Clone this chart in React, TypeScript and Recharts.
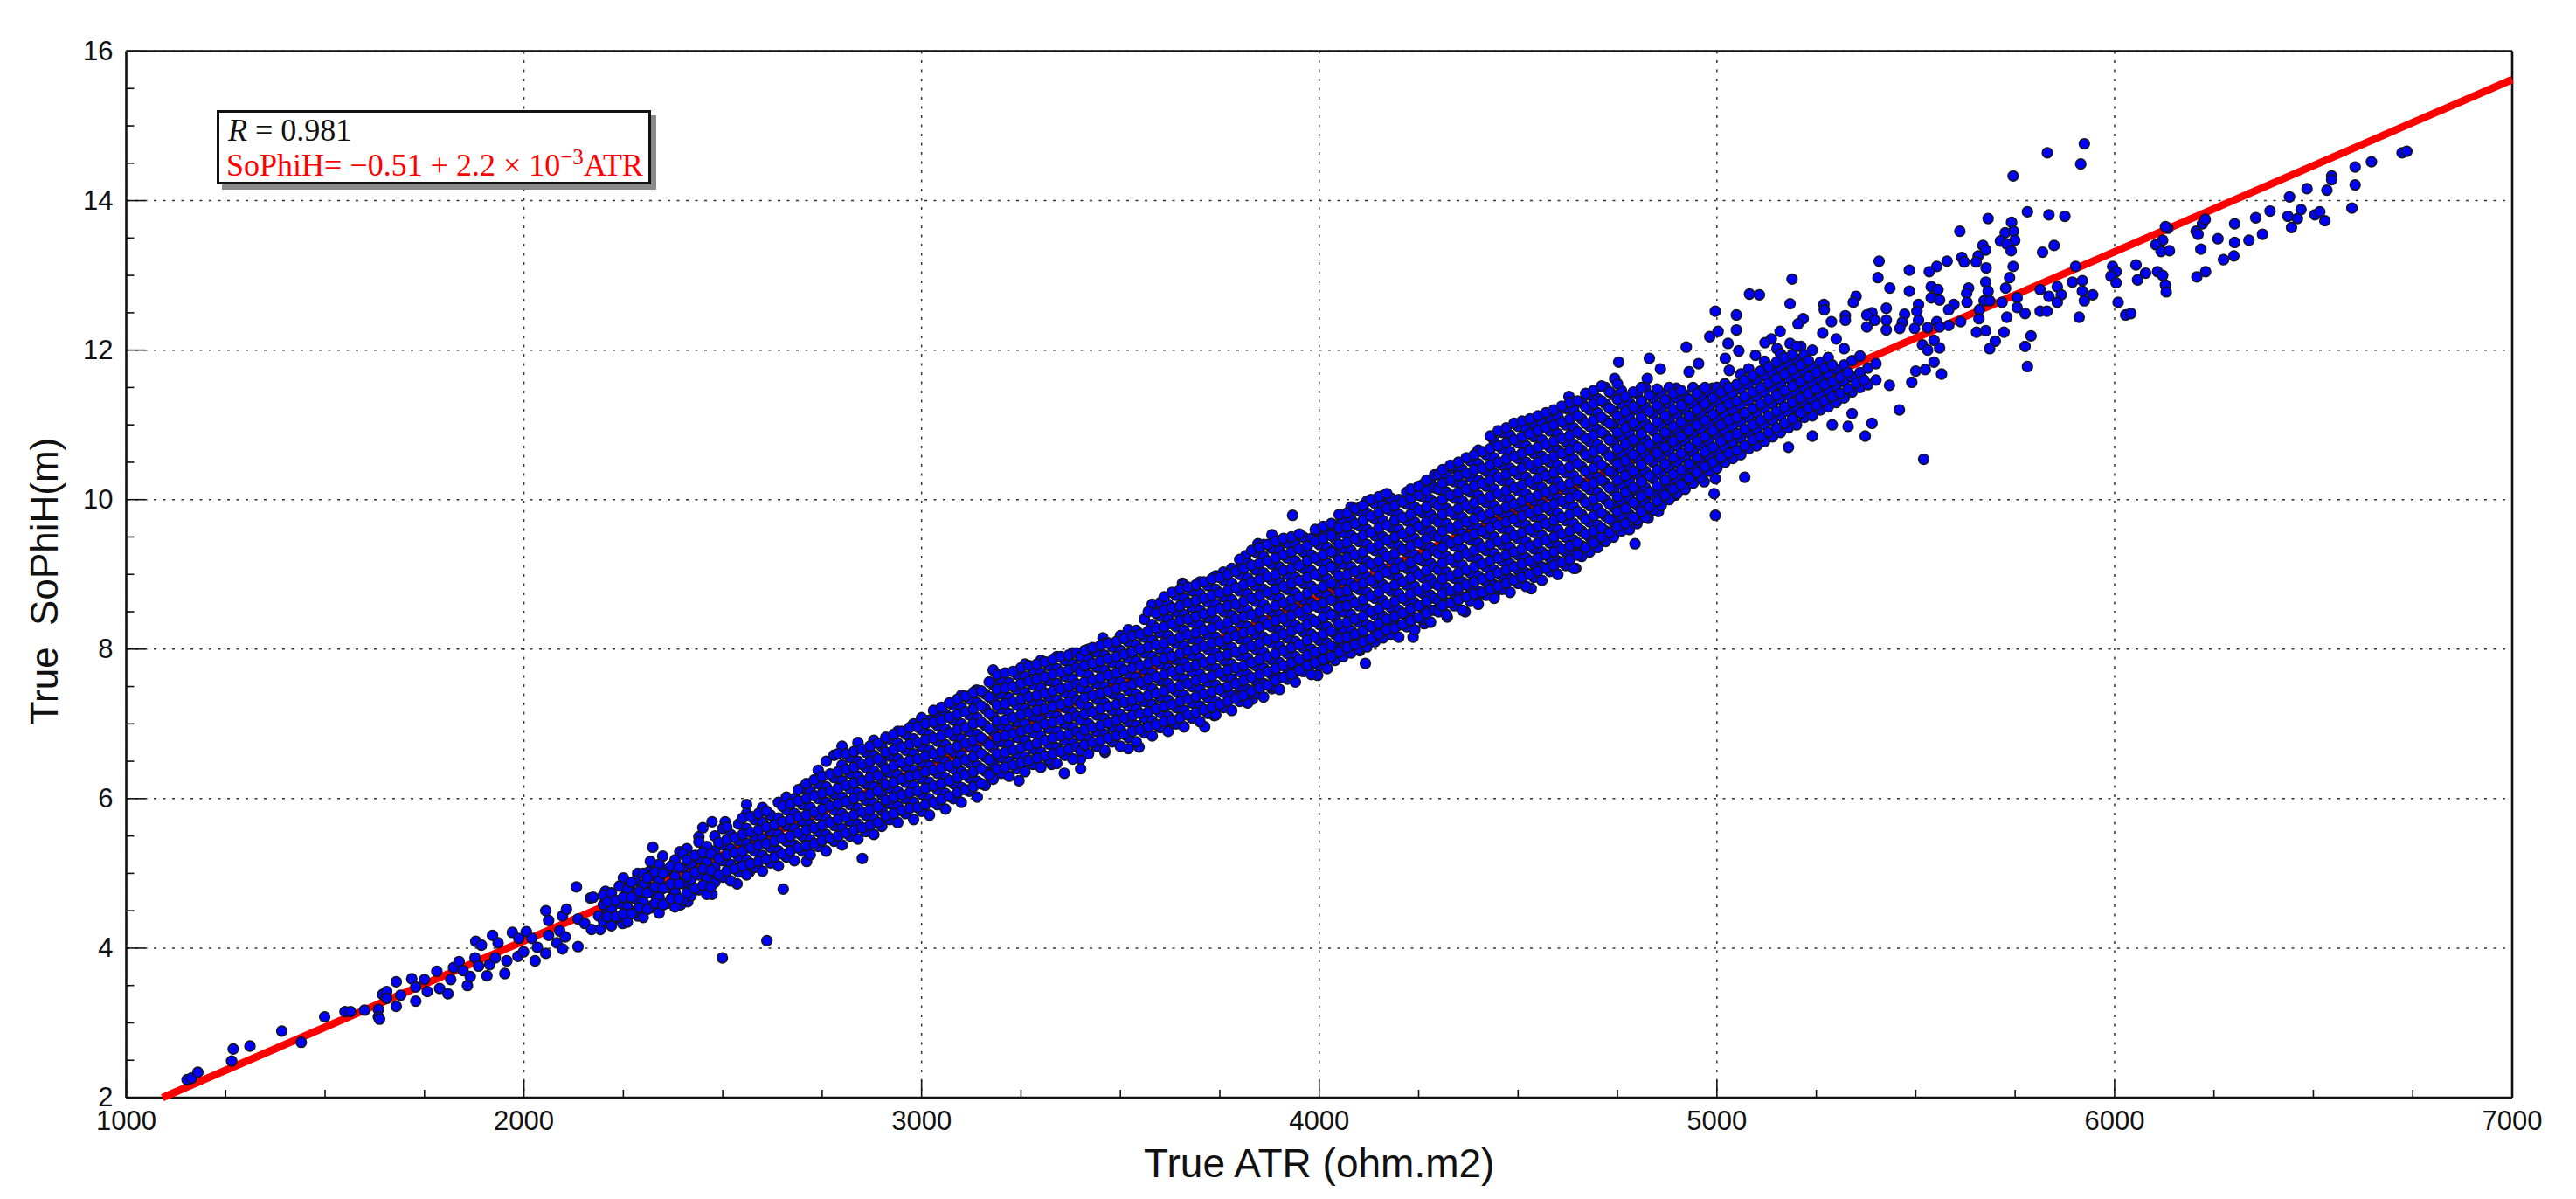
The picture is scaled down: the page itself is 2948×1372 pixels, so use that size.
import {
  ScatterChart,
  Scatter,
  XAxis,
  YAxis,
  CartesianGrid,
} from "recharts";

const xTicks = [1000, 1250, 1500, 1750, 2000, 2250, 2500, 2750, 3000, 3250, 3500, 3750, 4000, 4250, 4500, 4750, 5000, 5250, 5500, 5750, 6000, 6250, 6500, 6750, 7000];
const yTicks = [2, 2.5, 3, 3.5, 4, 4.5, 5, 5.5, 6, 6.5, 7, 7.5, 8, 8.5, 9, 9.5, 10, 10.5, 11, 11.5, 12, 12.5, 13, 13.5, 14, 14.5, 15, 15.5, 16];
const xGrid = [1000, 2000, 3000, 4000, 5000, 6000, 7000];
const yGrid = [2, 4, 6, 8, 10, 12, 14, 16];

// red fit line, read at the two edges of the frame
const fitLine = [
  { atr: 1091, sophih: 2 },
  { atr: 7000, sophih: 15.62 },
];

// separate dots at the thin end [ATR, SoPhiH]
const lowEnd = [
  [1153,2.24],[1164,2.26],[1180,2.34],[1265,2.49],[1269,2.65],[1311,2.69],[1391,2.89],[1440,2.74],[1499,3.08],[1550,3.15],
  [1564,3.15],[1599,3.17],[1634,3.18],[1634,3.08],[1637,3.05],[1645,3.38],[1655,3.42],[1655,3.33],[1679,3.55],[1679,3.22],
  [1690,3.37],[1718,3.59],[1728,3.29],[1728,3.48],[1750,3.58],[1757,3.42],[1781,3.69],[1788,3.46],[1809,3.39],[1816,3.58],
  [1823,3.74],[1837,3.82],[1847,3.7],[1858,3.5],[1865,3.62],[1877,3.87],[1879,4.09],[1893,4.04],[1886,3.76],[1907,3.63],
  [1914,3.78],[1921,4.17],[1928,3.87],[1935,4.07],[1952,3.66],[1957,3.83],[1971,4.21],[1985,3.89],[1987,4.13],[1999,3.95],
  [2006,4.22],[2020,4.13],[2028,3.83],[2034,4.01],[2055,4.5],[2055,3.93],[2062,4.17],[2062,4.37],[2083,4.07],[2090,4.23],
  [2097,3.99],[2097,4.43],[2104,4.15],[2107,4.52],[2132,4.82],[2136,4.02],[2136,4.39],[2153,4.33],[2167,4.67],[2170,4.25],
  [2174,4.68],[2192,4.25],[2188,4.43],[2205,4.76],[2209,4.49],[2226,4.37],[2230,4.62],[2248,4.33],[2250,4.94],[2258,4.72],
  [2265,4.82],[2272,4.49],[2286,4.43],[2286,5.0],[2290,4.68],[2307,4.84],[2317,4.56],[2314,5.02],[2324,5.35],[2318,5.16],
  [2332,4.7],[2349,5.23],[2349,4.58],[2360,5.04],[2370,4.8],[2394,4.58],[2392,5.29],[2410,5.33],[2412,4.62],[2398,4.88],
  [2419,4.82],[2426,5.16],[2440,5.49],[2454,5.35],[2450,5.61],[2473,5.69],[2473,4.72],[2447,5.0],[2475,4.92],[2499,3.87],
  [2611,4.1],[2652,4.79],[2536,4.86],[2567,5.02],[2711,5.16],[2851,5.2],[2506,5.69],[2560,5.92],
];

// edges of the thick middle that can be picked out one by one
const bandEdges = [
  [3180,7.72],[3137,7.45],[3456,8.15],[4337,10.42],[4158,9.99],[4102,9.89],[4059,9.57],[3881,9.53],[3656,8.88],[3736,8.96],
  [3759,9.03],[3801,9.08],[3815,9.25],[3846,9.41],[3933,9.79],[4628,11.38],[4753,11.84],[4830,11.89],[4743,11.62],[4825,11.62],
  [4858,11.75],[4923,12.04],[4930,11.71],[4954,11.82],[4982,12.18],[5003,12.25],[4996,12.52],[5049,12.47],[5049,12.27],[5028,12.09],
  [5055,11.99],[5021,11.89],[5031,11.73],[4898,11.49],[4954,11.46],[4989,11.49],[5010,11.46],[4951,11.24],
  [4996,9.79],[4993,10.08],[4968,10.24],[4996,10.28],[5070,10.3],[4853,9.84],[4827,9.75],[4794,9.41],[4799,9.68],[4895,10.06],
  [4645,9.08],[4647,9.28],[4586,9.08],[4533,8.81],[4440,8.72],[4395,8.65],[4367,8.5],[4322,8.43],[4264,8.34],[4236,8.16],
  [4116,7.81],[4102,7.98],[3996,7.65],[3881,7.47],[3832,7.33],[3790,7.38],[3736,7.11],[3712,6.96],[3614,7.0],[3547,6.69],
  [3520,6.67],[3461,6.62],[3400,6.53],[3400,6.4],[3359,6.34],[3327,6.46],[3245,6.24],
  [5520,10.54],[5180,10.7],[5240,10.85],[5290,11.0],[5340,11.15],[5390,11.02],[5330,10.98],[5459,11.2],[5434,11.53],[5373,10.85],
];

// separate dots at the upper right
const highEnd = [
  [5924,14.76],[5831,14.64],[5915,14.49],[5745,14.33],[5781,13.85],[5835,13.81],[5875,13.79],[5682,13.76],[5611,13.59],[5741,13.71],
  [5725,13.57],[5746,13.59],[5749,13.47],[5713,13.46],[5729,13.42],[5669,13.4],[5848,13.4],[5740,13.33],[5676,13.34],[5819,13.31],
  [5657,13.26],[5616,13.24],[5622,13.18],[5579,13.19],[5652,13.18],[5408,13.19],[5553,13.12],[5677,13.1],[5745,13.12],[5484,13.07],
  [5534,13.05],[5405,12.97],[5189,12.95],[5736,12.97],[5676,12.91],[5435,12.83],[5539,12.85],[5556,12.81],[5484,12.79],[5726,12.83],
  [5633,12.83],[5682,12.79],[5628,12.76],[5107,12.74],[5082,12.75],[5350,12.72],[5539,12.7],[5560,12.67],[5343,12.64],[5184,12.62],
  [5269,12.61],[5507,12.61],[5672,12.66],[5629,12.64],[5686,12.66],[5596,12.61],[5583,12.54],[5717,12.64],[5426,12.56],[5390,12.5],
  [5377,12.47],[5323,12.46],[5503,12.52],[5660,12.54],[5270,12.54],[5217,12.42],[5472,12.48],[5397,12.4],[5323,12.4],[5204,12.35],
  [5288,12.38],[5426,12.4],[5507,12.4],[5659,12.42],[5613,12.38],[5553,12.38],[5466,12.37],[5583,12.33],[5560,12.31],[5530,12.3],
  [5460,12.29],[5497,12.29],[5426,12.27],[5377,12.31],[5266,12.23],[5159,12.25],[5300,12.15],[5137,12.15],[5121,12.1],[5184,12.09],
  [5151,12.02],[5211,12.05],[5097,11.93],
  [5755,12.7],[5813,12.81],[5755,12.57],[5775,12.49],[5813,12.52],[5830,12.52],[5856,12.85],[5835,12.72],[5866,12.74],[5856,12.64],
  [5894,12.91],[5919,12.93],[5919,12.79],[5945,12.74],[5924,12.66],[5911,12.44],[5729,12.44],[5722,12.24],[5653,12.24],[5676,12.26],
  [5700,12.12],[5686,12.02],[5790,12.19],[5775,12.05],[5781,11.78],[5565,11.68],[5546,11.84],[5560,12.03],[5546,12.13],[5517,12.07],
  [5530,12.0],[5524,11.74],[5500,11.72],[5490,11.57],
  [5902,13.12],[5995,13.12],[6004,13.05],[5991,12.99],[6004,12.9],[6054,13.14],[6078,13.03],[6058,12.94],[6108,13.05],[6121,13.0],
  [6128,12.87],[6130,12.78],[6009,12.64],[6028,12.47],[6041,12.49],[6134,13.63],[6128,13.65],[6121,13.47],[6104,13.41],[6117,13.32],
  [6138,13.33],[6205,13.59],[6210,13.55],[6221,13.69],[6228,13.75],[6217,13.35],[6260,13.49],[6302,13.69],[6302,13.44],[6300,13.26],
  [6274,13.21],[6207,12.98],[6229,13.05],[6338,13.47],[6372,13.55],[6355,13.77],[6391,13.86],[6440,14.05],[6436,13.79],[6445,13.64],
  [6460,13.76],[6469,13.88],[6484,14.16],[6504,13.81],[6516,13.85],[6529,13.73],[6534,14.14],[6546,14.33],[6546,14.28],[6597,13.9],
  [6605,14.21],[6605,14.45],[6646,14.52],[6723,14.64],[6735,14.66],
];

// crowded part, one row per ATR position: [ATR, SoPhiH, SoPhiH, ...]
const bandStart = [
  [2200,4.36,4.58,4.71],[2220,4.3,4.52,4.74],[2240,4.42,4.6,4.83],[2260,4.35,4.55,4.78],[2280,4.48,4.66,4.9],
  [2300,4.41,4.62,4.85,5.0],[2320,4.54,4.76,4.97],[2340,4.47,4.68,4.9,5.12],[2360,4.6,4.82,5.05],[2380,4.55,4.75,4.96,5.18],
  [2400,4.64,4.87,5.08,5.26],[2420,4.7,4.92,5.13],[2440,4.78,4.98,5.2,5.42],[2460,4.72,4.93,5.15,5.36],[2480,4.88,5.08,5.3,5.5],
  [2500,4.95,5.17,5.38,5.6],[2520,4.9,5.12,5.33,5.52],[2540,5.02,5.22,5.44,5.66],[2560,4.98,5.18,5.4,5.6,5.8],[2580,5.08,5.3,5.5,5.72],
  [2600,5.03,5.24,5.46,5.68,5.88],[2620,5.14,5.35,5.56,5.78],[2640,5.1,5.3,5.52,5.74,5.95],[2660,5.22,5.43,5.64,5.85,6.02],[2680,5.17,5.38,5.6,5.8,6.0],
  [2700,5.3,5.5,5.7,5.92,6.14],[2720,5.25,5.45,5.66,5.88,6.1],[2740,5.36,5.56,5.78,6.0,6.2,6.38],[2760,5.3,5.52,5.73,5.95,6.16,6.5],[2780,5.43,5.64,5.85,6.06,6.28,6.58],
  [2800,5.38,5.6,5.8,6.02,6.24,6.45,6.7],[2820,5.5,5.7,5.92,6.13,6.34,6.55],[2840,5.46,5.66,5.87,6.08,6.3,6.5,6.75],[2860,5.56,5.78,5.98,6.2,6.42,6.62],[2880,5.52,5.73,5.94,6.16,6.37,6.58,6.78],
  [2900,5.63,5.84,6.05,6.26,6.48,6.7],[2920,5.72,5.93,6.14,6.35,6.57,6.8],[2940,5.68,5.9,6.1,6.32,6.53,6.74,6.9],[2960,5.8,6.0,6.22,6.43,6.65,6.86],[2980,5.72,5.95,6.17,6.38,6.6,6.8,7.0],
  [3000,5.83,6.06,6.27,6.48,6.7,6.92,7.08],[3020,5.78,6.0,6.22,6.44,6.65,6.86,7.05],[3040,5.92,6.12,6.34,6.55,6.77,6.98,7.15],[3060,5.86,6.07,6.28,6.5,6.72,6.93,7.13],[3080,6.0,6.2,6.4,6.62,6.84,7.05,7.25],
  [3100,5.95,6.15,6.36,6.58,6.8,7.0,7.22,7.38],[3120,6.1,6.28,6.48,6.7,6.9,7.12,7.33],[3140,6.02,6.23,6.44,6.65,6.86,7.08,7.28,7.45],[3160,6.18,6.37,6.56,6.77,6.98,7.2,7.4],[3180,6.26,6.46,6.68,6.9,7.1,7.32,7.52],
  [3200,6.34,6.55,6.76,6.98,7.2,7.4,7.6],[3220,6.3,6.5,6.72,6.93,7.14,7.35,7.55],[3240,6.4,6.6,6.82,7.03,7.25,7.46,7.66],[3260,6.36,6.56,6.78,7.0,7.2,7.42,7.63,7.8],[3280,6.46,6.66,6.88,7.1,7.3,7.52,7.72],
  [3300,6.42,6.62,6.84,7.05,7.26,7.48,7.68,7.85],[3320,6.52,6.73,6.94,7.15,7.36,7.58,7.78],[3340,6.47,6.68,6.9,7.1,7.32,7.54,7.74,7.9],[3360,6.58,6.78,7.0,7.22,7.42,7.64,7.85],[3380,6.53,6.74,6.95,7.16,7.38,7.6,7.8,7.95],
];

const bandMiddle = [
  [3400,6.64,6.84,7.05,7.27,7.48,7.7,7.9],[3420,6.6,6.8,7.0,7.22,7.44,7.65,7.86,8.0],[3440,6.7,6.9,7.12,7.33,7.54,7.76,7.96],[3460,6.65,6.86,7.07,7.28,7.5,7.72,7.92,8.08],[3480,6.76,6.96,7.18,7.4,7.6,7.82,8.03],
  [3500,6.7,6.92,7.13,7.34,7.56,7.78,7.98,8.18],[3520,6.82,7.03,7.24,7.45,7.67,7.88,8.1,8.26],[3540,6.76,6.98,7.2,7.4,7.62,7.84,8.05,8.25],[3560,6.88,7.08,7.3,7.52,7.73,7.95,8.16,8.4],[3580,6.84,7.04,7.26,7.47,7.68,7.9,8.12,8.33,8.6],
  [3600,6.95,7.15,7.36,7.58,7.8,8.0,8.22,8.44,8.62],[3620,6.9,7.1,7.32,7.54,7.75,7.96,8.18,8.4,8.6],[3640,7.0,7.22,7.44,7.65,7.86,8.08,8.3,8.5,8.72],[3660,6.96,7.18,7.38,7.6,7.82,8.04,8.25,8.46,8.68,8.86],[3680,7.08,7.28,7.5,7.7,7.92,8.14,8.36,8.56,8.78],
  [3700,7.03,7.24,7.46,7.67,7.88,8.1,8.32,8.52,8.74,8.9],[3720,7.14,7.35,7.56,7.78,8.0,8.2,8.42,8.63,8.85],[3740,7.12,7.3,7.52,7.74,7.95,8.16,8.38,8.6,8.8,8.98],[3760,7.22,7.42,7.64,7.85,8.06,8.28,8.5,8.7,8.92],[3780,7.18,7.38,7.6,7.8,8.02,8.24,8.45,8.66,8.88,9.08],
  [3800,7.3,7.5,7.7,7.92,8.14,8.35,8.56,8.78,9.0,9.2],[3820,7.28,7.46,7.66,7.88,8.1,8.3,8.52,8.74,8.95,9.15],[3840,7.4,7.58,7.78,8.0,8.2,8.42,8.64,8.85,9.06,9.3],[3860,7.36,7.54,7.75,7.96,8.16,8.38,8.6,8.8,9.02,9.24,9.4],[3880,7.5,7.66,7.86,8.08,8.3,8.5,8.72,8.93,9.14,9.35],
  [3900,7.46,7.62,7.82,8.04,8.25,8.46,8.68,8.9,9.1,9.32,9.45],[3920,7.6,7.74,7.94,8.15,8.36,8.58,8.8,9.0,9.22,9.42],[3940,7.56,7.7,7.9,8.1,8.32,8.54,8.75,8.96,9.18,9.4],[3960,7.7,7.82,8.02,8.23,8.44,8.66,8.88,9.08,9.3,9.5],[3980,7.66,7.8,8.0,8.2,8.4,8.62,8.84,9.05,9.26,9.48],
  [4000,7.78,7.92,8.12,8.33,8.55,8.76,8.98,9.18,9.4,9.58],[4020,7.74,7.88,8.08,8.3,8.5,8.72,8.94,9.15,9.36,9.55],[4040,7.85,8.0,8.2,8.42,8.63,8.85,9.06,9.27,9.48,9.66],[4060,7.9,8.08,8.28,8.5,8.7,8.92,9.14,9.35,9.56,9.72],[4080,7.95,8.05,8.25,8.46,8.67,8.88,9.1,9.32,9.52,9.74,9.9],
  [4100,8.0,8.16,8.36,8.58,8.8,9.0,9.22,9.44,9.65,9.85],[4120,8.03,8.13,8.33,8.54,8.76,8.97,9.18,9.4,9.6,9.82,9.98],[4140,8.1,8.26,8.46,8.68,8.88,9.1,9.32,9.52,9.74,9.95],[4160,8.15,8.24,8.44,8.65,8.86,9.08,9.3,9.5,9.72,9.93,10.05],[4180,8.2,8.36,8.56,8.78,9.0,9.2,9.42,9.63,9.85,10.02],
  [4200,8.16,8.32,8.52,8.74,8.95,9.16,9.38,9.6,9.8,10.0],[4220,8.3,8.45,8.65,8.86,9.08,9.3,9.5,9.72,9.94,10.1],[4240,8.26,8.42,8.62,8.84,9.05,9.26,9.48,9.7,9.9,10.08],[4260,8.4,8.55,8.75,8.96,9.18,9.4,9.6,9.82,10.04,10.2],[4280,8.36,8.52,8.72,8.94,9.15,9.36,9.58,9.8,10.0,10.22],
];

const bandUpper = [
  [4300,8.5,8.65,8.85,9.06,9.28,9.5,9.7,9.92,10.14,10.34],[4320,8.46,8.62,8.82,9.03,9.24,9.46,9.68,9.88,10.1,10.32],[4340,8.58,8.74,8.95,9.16,9.38,9.6,9.8,10.02,10.24,10.45],[4360,8.52,8.7,8.9,9.12,9.34,9.55,9.76,9.98,10.2,10.4],[4380,8.64,8.82,9.02,9.24,9.46,9.66,9.88,10.1,10.3,10.52],
  [4400,8.6,8.78,8.98,9.2,9.42,9.62,9.84,10.06,10.26,10.48,10.66],[4420,8.72,8.9,9.1,9.32,9.54,9.74,9.96,10.18,10.38,10.6],[4440,8.68,8.86,9.06,9.28,9.5,9.7,9.92,10.14,10.35,10.56,10.78],[4460,8.8,8.98,9.18,9.4,9.62,9.82,10.04,10.26,10.46,10.68,10.9],[4480,8.76,8.94,9.14,9.36,9.58,9.78,10.0,10.22,10.42,10.64,10.86],
  [4500,8.88,9.06,9.26,9.48,9.7,9.9,10.12,10.34,10.55,10.76,10.98],[4520,8.84,9.02,9.22,9.44,9.66,9.86,10.08,10.3,10.5,10.72,10.94],[4540,8.96,9.14,9.34,9.56,9.78,9.98,10.2,10.42,10.62,10.84,11.0],[4560,8.92,9.1,9.3,9.52,9.74,9.94,10.16,10.38,10.58,10.8,11.02],[4580,9.04,9.22,9.42,9.64,9.86,10.06,10.28,10.5,10.7,10.92,11.1],
  [4600,9.0,9.18,9.38,9.6,9.82,10.02,10.24,10.46,10.66,10.88,11.12],[4620,9.12,9.3,9.5,9.72,9.94,10.14,10.36,10.58,10.78,11.0,11.22],[4640,9.08,9.26,9.46,9.68,9.9,10.1,10.32,10.54,10.74,10.96,11.2],[4660,9.24,9.38,9.58,9.8,10.02,10.22,10.44,10.66,10.86,11.08,11.3],[4680,9.3,9.5,9.7,9.92,10.14,10.34,10.56,10.78,10.98,11.2,11.4],
  [4700,9.36,9.46,9.66,9.88,10.1,10.3,10.52,10.74,10.94,11.16,11.35],[4720,9.44,9.58,9.78,10.0,10.22,10.42,10.64,10.86,11.06,11.28,11.5],[4740,9.5,9.7,9.9,10.12,10.34,10.54,10.76,10.98,11.18,11.4],[4760,9.58,9.78,9.98,10.2,10.42,10.62,10.84,11.06,11.28,11.46],[4780,9.6,9.8,10.02,10.24,10.44,10.66,10.88,11.1,11.3],
  [4800,9.72,9.92,10.12,10.34,10.55,10.76,10.98,11.2,11.42],[4820,9.76,9.96,10.16,10.38,10.6,10.8,11.02,11.24,11.5],[4840,9.86,10.06,10.28,10.5,10.7,10.92,11.14,11.35],[4860,9.92,10.12,10.34,10.56,10.76,10.98,11.2,11.42],[4880,10.0,10.2,10.42,10.64,10.84,11.06,11.28,11.5],
  [4900,10.08,10.28,10.5,10.72,10.92,11.14,11.36],[4920,10.14,10.34,10.56,10.78,10.98,11.2,11.4],[4940,10.22,10.42,10.64,10.86,11.06,11.28,11.5],[4960,10.3,10.5,10.72,10.94,11.14,11.36],[4980,10.38,10.58,10.78,11.0,11.22,11.44],
  [5000,10.42,10.64,10.86,11.08,11.3,11.5],[5020,10.5,10.7,10.92,11.14,11.36,11.55],[5040,10.55,10.76,10.98,11.2,11.42],[5060,10.6,10.82,11.04,11.26,11.48,11.68],[5080,10.68,10.9,11.1,11.32,11.54,11.75],
  [5100,10.72,10.94,11.16,11.38,11.6],[5120,10.78,11.0,11.22,11.44,11.66,11.85],[5140,10.84,11.06,11.28,11.5,11.7],[5160,10.9,11.12,11.34,11.54,11.76,11.95],[5180,10.96,11.18,11.4,11.62,11.82],
  [5200,11.0,11.22,11.44,11.66,11.88,12.05],[5220,11.1,11.3,11.5,11.72,11.94],[5240,11.12,11.34,11.56,11.78,12.0],[5260,11.2,11.4,11.62,11.84],[5280,11.24,11.46,11.68,11.9],
  [5300,11.3,11.52,11.74],[5320,11.36,11.58,11.8,12.02],[5340,11.44,11.64,11.86],[5360,11.5,11.7,11.92],[5380,11.54,11.76],[5400,11.6,11.82],
];

// second pass over the crowded part, between the rows above
const fillStart = [
  [2210,4.42,4.62],[2230,4.42,4.64],[2250,4.46,4.68],[2270,4.46,4.68,4.88],[2290,4.54,4.76],[2310,4.52,4.74,4.94],[2330,4.6,4.82,5.02],[2350,4.58,4.8,5.0],[2370,4.66,4.86,5.1],[2390,4.66,4.86,5.08],
  [2410,4.74,4.96,5.18],[2430,4.8,5.02,5.24],[2450,4.84,5.06,5.28],[2470,4.82,5.04,5.26],[2490,4.98,5.2,5.41],[2510,5.03,5.25,5.45,5.62],[2530,5.06,5.28,5.48],[2550,5.1,5.3,5.52,5.74],[2570,5.13,5.34,5.55,5.76],[2590,5.16,5.38,5.58,5.8],
  [2610,5.19,5.4,5.62,5.83],[2630,5.22,5.43,5.65],[2650,5.26,5.47,5.69,5.9],[2670,5.3,5.5,5.72,5.93],[2690,5.34,5.54,5.76,5.97,6.12],[2710,5.37,5.58,5.78,6.0,6.2],[2730,5.4,5.61,5.82,6.04,6.25],[2750,5.44,5.64,5.86,6.07,6.3],[2770,5.47,5.68,5.9,6.1,6.33],[2790,5.5,5.72,5.93,6.14,6.36,6.6],
  [2810,5.54,5.75,5.96,6.18,6.39,6.6],[2830,5.58,5.78,6.0,6.21,6.42,6.63],[2850,5.61,5.82,6.03,6.24,6.46,6.66],[2870,5.64,5.85,6.06,6.28,6.5,6.7],[2890,5.68,5.89,6.1,6.31,6.53,6.74],[2910,5.77,5.98,6.19,6.4,6.62,6.82],[2930,5.8,6.02,6.22,6.44,6.65,6.86],[2950,5.84,6.05,6.26,6.48,6.69,6.9],[2970,5.87,6.08,6.3,6.51,6.73,6.95],[2990,5.88,6.1,6.32,6.53,6.75,6.96],
  [3010,5.92,6.14,6.36,6.57,6.79,7.0],[3030,5.95,6.17,6.38,6.6,6.81,7.02,7.18],[3050,5.99,6.2,6.41,6.63,6.84,7.05,7.22],[3070,6.03,6.24,6.44,6.66,6.88,7.09,7.28],[3090,6.08,6.28,6.48,6.7,6.92,7.13,7.33],[3110,6.12,6.32,6.52,6.74,6.95,7.16,7.37],[3130,6.16,6.36,6.56,6.78,7.0,7.2,7.42],[3150,6.2,6.4,6.6,6.81,7.02,7.24,7.44],[3170,6.32,6.52,6.72,6.94,7.14,7.36,7.56],[3190,6.4,6.6,6.82,7.04,7.25,7.46,7.66],
  [3210,6.42,6.62,6.84,7.05,7.27,7.48,7.68],[3230,6.45,6.65,6.87,7.08,7.3,7.5,7.7],[3250,6.48,6.68,6.9,7.12,7.33,7.54,7.75],[3270,6.51,6.71,6.93,7.15,7.36,7.57,7.78],[3290,6.54,6.74,6.96,7.18,7.38,7.6,7.8],[3310,6.57,6.78,7.0,7.2,7.41,7.63,7.83],[3330,6.6,6.81,7.02,7.23,7.44,7.66,7.86],[3350,6.63,6.84,7.05,7.26,7.47,7.69,7.9],[3370,6.66,6.86,7.08,7.29,7.5,7.72,7.92],[3390,6.69,6.89,7.1,7.32,7.53,7.75,7.95],
];

const fillMiddle = [
  [3410,6.72,6.92,7.13,7.35,7.56,7.78,7.98],[3430,6.75,6.95,7.16,7.38,7.59,7.81,8.02],[3450,6.78,6.98,7.2,7.41,7.62,7.84,8.05],[3470,6.81,7.01,7.23,7.44,7.65,7.87,8.08],[3490,6.84,7.05,7.26,7.47,7.68,7.9,8.1],[3510,6.86,7.08,7.29,7.5,7.72,7.93,8.14],[3530,6.9,7.11,7.32,7.53,7.75,7.96,8.18],[3550,6.92,7.14,7.35,7.56,7.78,8.0,8.2],[3570,6.96,7.16,7.38,7.6,7.81,8.03,8.24,8.5],[3590,6.99,7.2,7.41,7.63,7.84,8.06,8.28,8.48],
  [3610,7.03,7.23,7.44,7.66,7.88,8.08,8.3,8.52,8.7],[3630,7.05,7.26,7.48,7.7,7.9,8.12,8.34,8.55,8.76],[3650,7.08,7.3,7.51,7.73,7.94,8.16,8.38,8.58,8.8],[3670,7.12,7.33,7.54,7.76,7.98,8.19,8.4,8.62,8.83],[3690,7.15,7.36,7.58,7.79,8.0,8.22,8.44,8.65,8.86],[3710,7.19,7.4,7.61,7.82,8.04,8.25,8.47,8.68,8.9],[3730,7.22,7.43,7.64,7.86,8.08,8.28,8.5,8.72,8.94],[3750,7.26,7.46,7.68,7.9,8.1,8.32,8.54,8.75,8.96],[3770,7.3,7.5,7.72,7.93,8.14,8.36,8.58,8.78,9.0],[3790,7.34,7.54,7.75,7.96,8.18,8.4,8.6,8.82,9.04],
  [3810,7.38,7.58,7.78,8.0,8.22,8.43,8.64,8.86,9.08],[3830,7.44,7.62,7.82,8.04,8.25,8.46,8.68,8.9,9.12,9.32],[3850,7.48,7.66,7.86,8.08,8.29,8.5,8.72,8.93,9.15,9.36],[3870,7.52,7.7,7.9,8.12,8.33,8.54,8.76,8.97,9.18,9.4],[3890,7.58,7.74,7.94,8.16,8.38,8.58,8.8,9.0,9.22,9.44],[3910,7.62,7.78,7.98,8.2,8.41,8.62,8.84,9.05,9.26,9.48],[3930,7.66,7.82,8.02,8.24,8.45,8.66,8.88,9.08,9.3,9.5],[3950,7.72,7.86,8.06,8.28,8.49,8.7,8.92,9.12,9.34,9.54],[3970,7.78,7.92,8.12,8.33,8.54,8.75,8.96,9.18,9.38],[3990,7.82,7.96,8.16,8.37,8.58,8.8,9.0,9.22,9.44,9.6],
  [4010,7.86,8.0,8.2,8.42,8.62,8.84,9.05,9.26,9.48,9.64],[4030,7.9,8.04,8.24,8.46,8.66,8.88,9.1,9.3,9.52,9.68],[4050,7.96,8.14,8.34,8.56,8.76,8.98,9.2,9.4,9.62,9.8],[4070,8.02,8.16,8.36,8.58,8.78,9.0,9.22,9.43,9.64,9.82],[4090,8.06,8.2,8.4,8.62,8.84,9.04,9.26,9.48,9.68,9.88],[4110,8.1,8.24,8.44,8.66,8.88,9.08,9.3,9.52,9.72,9.92],[4130,8.14,8.3,8.5,8.71,8.92,9.14,9.35,9.56,9.78,10.0],[4150,8.2,8.34,8.54,8.76,8.97,9.18,9.4,9.62,9.83,10.04],[4170,8.26,8.4,8.6,8.82,9.03,9.24,9.46,9.66,9.88,10.08],[4190,8.28,8.44,8.64,8.86,9.07,9.28,9.5,9.72,9.92],
  [4210,8.33,8.48,8.68,8.9,9.11,9.33,9.54,9.76,9.97],[4230,8.38,8.54,8.74,8.95,9.16,9.38,9.59,9.8,10.02,10.14],[4250,8.42,8.58,8.78,9.0,9.21,9.42,9.64,9.86,10.06,10.18],[4270,8.48,8.64,8.84,9.05,9.26,9.48,9.7,9.9,10.12,10.26],[4290,8.52,8.68,8.88,9.1,9.32,9.52,9.74,9.96,10.16,10.33],
];

const fillUpper = [
  [4310,8.58,8.74,8.94,9.15,9.36,9.58,9.8,10.0,10.22,10.4],[4330,8.62,8.78,8.98,9.2,9.42,9.62,9.84,10.06,10.26,10.46],[4350,8.66,8.82,9.02,9.24,9.46,9.66,9.88,10.1,10.32,10.5],[4370,8.7,8.86,9.06,9.28,9.5,9.7,9.92,10.14,10.35,10.56],[4390,8.74,8.9,9.1,9.32,9.54,9.74,9.96,10.18,10.4,10.6],[4410,8.76,8.94,9.14,9.36,9.58,9.78,10.0,10.22,10.42,10.64],[4430,8.8,8.98,9.18,9.4,9.62,9.82,10.04,10.26,10.46,10.68,10.85],[4450,8.84,9.02,9.22,9.44,9.66,9.86,10.08,10.3,10.5,10.72,10.92],[4470,8.88,9.06,9.26,9.48,9.7,9.9,10.12,10.34,10.54,10.76,10.96],[4490,8.92,9.1,9.3,9.52,9.74,9.94,10.16,10.38,10.58,10.8,11.02],
  [4510,8.96,9.14,9.34,9.56,9.78,9.98,10.2,10.42,10.62,10.84,11.05],[4530,9.0,9.18,9.38,9.6,9.82,10.02,10.24,10.46,10.66,10.88,11.08],[4550,9.04,9.22,9.42,9.64,9.86,10.06,10.28,10.5,10.7,10.92,11.12],[4570,9.08,9.26,9.46,9.68,9.9,10.1,10.32,10.54,10.74,10.96,11.16],[4590,9.12,9.3,9.5,9.72,9.94,10.14,10.36,10.58,10.78,11.0,11.2],[4610,9.16,9.34,9.54,9.76,9.98,10.18,10.4,10.62,10.82,11.04,11.25],[4630,9.2,9.38,9.58,9.8,10.02,10.22,10.44,10.66,10.86,11.08,11.3],[4650,9.26,9.42,9.62,9.84,10.06,10.26,10.48,10.7,10.9,11.12,11.32],[4670,9.36,9.54,9.74,9.96,10.18,10.38,10.6,10.82,11.02,11.24,11.42],[4690,9.42,9.58,9.78,10.0,10.22,10.42,10.64,10.86,11.06,11.28,11.46],
  [4710,9.5,9.62,9.82,10.04,10.26,10.46,10.68,10.9,11.1,11.32,11.52],[4730,9.56,9.74,9.94,10.16,10.38,10.58,10.8,11.02,11.22,11.44],[4750,9.64,9.84,10.04,10.26,10.48,10.68,10.9,11.12,11.34,11.55],[4770,9.68,9.88,10.1,10.32,10.52,10.74,10.96,11.18,11.38],[4790,9.76,9.96,10.16,10.38,10.6,10.8,11.02,11.24,11.44],[4810,9.84,10.04,10.24,10.46,10.68,10.88,11.1,11.32,11.5],[4830,9.9,10.1,10.32,10.54,10.74,10.96,11.18,11.4],[4850,9.98,10.18,10.4,10.62,10.82,11.04,11.26,11.48],[4870,10.06,10.26,10.48,10.7,10.9,11.12,11.34],[4890,10.14,10.34,10.56,10.78,10.98,11.2,11.42],
  [4910,10.2,10.4,10.62,10.84,11.04,11.26,11.46],[4930,10.28,10.48,10.7,10.92,11.12,11.34],[4950,10.36,10.56,10.78,11.0,11.2,11.42],[4970,10.44,10.64,10.84,11.06,11.28,11.5],[4990,10.5,10.7,10.92,11.14,11.36],[5010,10.56,10.78,11.0,11.22,11.44],[5030,10.62,10.84,11.06,11.28,11.5],[5050,10.66,10.88,11.1,11.32,11.54],[5070,10.72,10.94,11.16,11.38,11.6],[5090,10.8,11.0,11.22,11.44,11.66],
  [5110,10.84,11.06,11.28,11.5,11.72],[5130,10.9,11.12,11.34,11.56,11.78],[5150,10.96,11.18,11.4,11.62,11.84],[5170,11.02,11.24,11.46,11.68,11.9],[5190,11.08,11.3,11.52,11.74,11.94],[5210,11.16,11.36,11.58,11.8],[5230,11.22,11.42,11.64,11.86],[5250,11.26,11.48,11.7],[5270,11.32,11.54,11.76],[5290,11.38,11.58,11.8],
  [5310,11.42,11.64],[5330,11.48,11.7],[5350,11.56],[5370,11.6],
];

const dots = [...lowEnd, ...bandEdges, ...highEnd].map(([atr, sophih]) => ({ atr, sophih }));
const bandDots = [...bandStart, ...fillStart, ...bandMiddle, ...fillMiddle, ...bandUpper, ...fillUpper].flatMap(([atr, ...values]) =>
  values.map((sophih) => ({ atr, sophih }))
);
const allDots = [...dots, ...bandDots];

const fontFamily = '"Liberation Sans", Arial, sans-serif';

function Dot({ cx, cy }: any) {
  return <circle cx={cx} cy={cy} r={5.8} fill="#0000ff" stroke="#14142a" strokeWidth={1.7} />;
}

// ticks point inwards on all four sides, longer on the labelled values
function XTick({ x, y, payload, side }: any) {
  const major = payload.value % 1000 === 0;
  const len = major ? 20 : 9;
  const dir = side === "bottom" ? -1 : 1;
  return (
    <g>
      <line x1={x} x2={x} y1={y} y2={y + dir * len} stroke="#111" strokeWidth={1.6} />
      {side === "bottom" && major && (
        <text x={x} y={y + 37} textAnchor="middle" fontSize={31} fontFamily={fontFamily} fill="#111">
          {payload.value}
        </text>
      )}
    </g>
  );
}

function YTick({ x, y, payload, side }: any) {
  const major = payload.value % 2 === 0;
  const len = major ? 22 : 9;
  const dir = side === "left" ? 1 : -1;
  return (
    <g>
      <line x1={x} x2={x + dir * len} y1={y} y2={y} stroke="#111" strokeWidth={1.6} />
      {side === "left" && major && (
        <text x={x - 15} y={y + 10} textAnchor="end" fontSize={31} fontFamily={fontFamily} fill="#111">
          {payload.value}
        </text>
      )}
    </g>
  );
}

function YLabel() {
  return (
    <text transform="translate(66,665) rotate(-90)" textAnchor="middle" fontSize={44} fontFamily={fontFamily} fill="#111">
      {"True\u00a0\u00a0SoPhiH(m)"}
    </text>
  );
}

const axisLine = { stroke: "#111", strokeWidth: 2.6 };

export default function App() {
  return (
    <div style={{ position: "absolute", left: 0, top: 0, width: 2948, height: 1372, background: "#fff" }}>
      <ScatterChart width={2948} height={1372} margin={{ top: 0, right: 0, bottom: 0, left: 0 }}>
        <CartesianGrid
          xAxisId="bottom"
          yAxisId="left"
          verticalValues={xGrid}
          horizontalValues={yGrid}
          stroke="#333"
          strokeWidth={1.5}
          strokeDasharray="3 7.5"
        />
        <XAxis
          xAxisId="bottom"
          type="number"
          dataKey="atr"
          orientation="bottom"
          domain={[1000, 7000]}
          ticks={xTicks}
          interval={0}
          height={116}
          axisLine={axisLine}
          tickLine={false}
          tickSize={0}
          tickMargin={0}
          tick={<XTick side="bottom" />}
          label={{ value: "True ATR (ohm.m2)", position: "insideBottom", offset: 25, fontSize: 46, fontFamily, fill: "#111" }}
        />
        <XAxis
          xAxisId="top"
          type="number"
          dataKey="atr"
          orientation="top"
          domain={[1000, 7000]}
          ticks={xTicks}
          interval={0}
          height={58.5}
          axisLine={axisLine}
          tickLine={false}
          tickSize={0}
          tickMargin={0}
          tick={<XTick side="top" />}
        />
        <YAxis
          yAxisId="left"
          type="number"
          dataKey="sophih"
          orientation="left"
          domain={[2, 16]}
          ticks={yTicks}
          interval={0}
          width={144.5}
          axisLine={axisLine}
          tickLine={false}
          tickSize={0}
          tickMargin={0}
          tick={<YTick side="left" />}
          label={<YLabel />}
        />
        <YAxis
          yAxisId="right"
          type="number"
          dataKey="sophih"
          orientation="right"
          domain={[2, 16]}
          ticks={yTicks}
          interval={0}
          width={73}
          axisLine={axisLine}
          tickLine={false}
          tickSize={0}
          tickMargin={0}
          tick={<YTick side="right" />}
        />
        <Scatter
          data={fitLine}
          xAxisId="bottom"
          yAxisId="left"
          line={{ stroke: "#ff0000", strokeWidth: 8.5 }}
          shape={() => null}
          isAnimationActive={false}
        />
        <Scatter data={allDots} xAxisId="bottom" yAxisId="left" shape={<Dot />} isAnimationActive={false} />
      </ScatterChart>
      <div
        style={{
          position: "absolute",
          left: 248,
          top: 126,
          width: 491,
          height: 79,
          border: "3px solid #111",
          background: "#fff",
          boxShadow: "6px 6px 0 #8a8a8a",
          fontFamily: '"Liberation Serif", serif',
          fontSize: 36,
          lineHeight: "40px",
          whiteSpace: "pre",
        }}
      >
        <div style={{ paddingLeft: 10, color: "#111" }}>
          <i>R</i> = 0.981
        </div>
        <div style={{ paddingLeft: 8, color: "#ff0000" }}>
          SoPhiH= −0.51 + 2.2 × 10<sup style={{ fontSize: 25, lineHeight: 0 }}>−3</sup>ATR
        </div>
      </div>
    </div>
  );
}
